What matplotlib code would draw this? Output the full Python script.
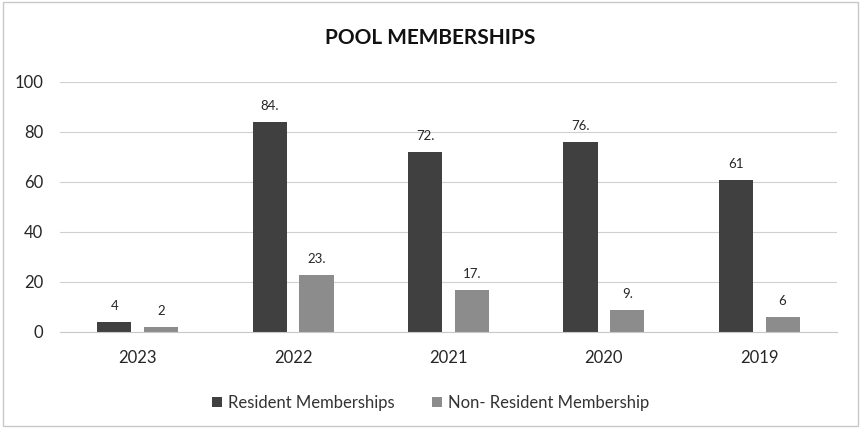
import matplotlib as mpl
mpl.use('Agg')
import matplotlib.pyplot as plt
import numpy as np

plt.rcParams['font.family'] = ['Lato', 'DejaVu Sans']

years = ['2023', '2022', '2021', '2020', '2019']
resident = [4, 84, 72, 76, 61]
non_resident = [2, 23, 17, 9, 6]
resident_labels = ['4', '84.', '72.', '76.', '61']
non_resident_labels = ['2', '23.', '17.', '9.', '6']

fig = plt.figure(figsize=(8.61, 4.28), dpi=100)
ax = fig.add_axes([60 / 861, 1 - 332 / 428, 777 / 861, 250 / 428])

x = np.arange(len(years))
w = 0.22
off = 0.15
b1 = ax.bar(x - off, resident, w, color='#404040', label='Resident Memberships')
b2 = ax.bar(x + off, non_resident, w, color='#8c8c8c', label='Non- Resident Membership')

for bars, labs in ((b1, resident_labels), (b2, non_resident_labels)):
    for bar, lab in zip(bars, labs):
        ax.annotate(lab, (bar.get_x() + bar.get_width() / 2, bar.get_height()),
                    xytext=(0, 7), textcoords='offset points', ha='center', va='bottom',
                    fontsize=9.5, color='#262626')

ax.set_ylim(0, 100)
ax.set_xlim(-0.5, len(years) - 0.5)
ax.set_yticks(range(0, 101, 20))
ax.set_xticks(x)
ax.set_xticklabels(years)
ax.yaxis.grid(True, color='#d0d0d0', linewidth=0.8)
ax.set_axisbelow(True)
for s in ['top', 'right', 'left']:
    ax.spines[s].set_visible(False)
ax.spines['bottom'].set_color('#c8c8c8')
ax.tick_params(length=0, labelsize=12, colors='#262626')
ax.tick_params(axis='x', pad=13)
ax.tick_params(axis='y', pad=12)

fig.suptitle('POOL MEMBERSHIPS', y=0.935, fontsize=15, fontweight='bold', color='#111111')
fig.legend(loc='center', bbox_to_anchor=(0.5, 1 - 403 / 428), ncol=2, frameon=False,
           fontsize=12, handlelength=0.6, handleheight=0.6, handletextpad=0.4,
           columnspacing=2.2, labelcolor='#333333')

fig.patches.append(mpl.patches.Rectangle((0.003, 0.004), 0.994, 0.992, transform=fig.transFigure,
                                          fill=False, edgecolor='#c8c8c8', linewidth=1))

plt.savefig('out.png', dpi=100)
